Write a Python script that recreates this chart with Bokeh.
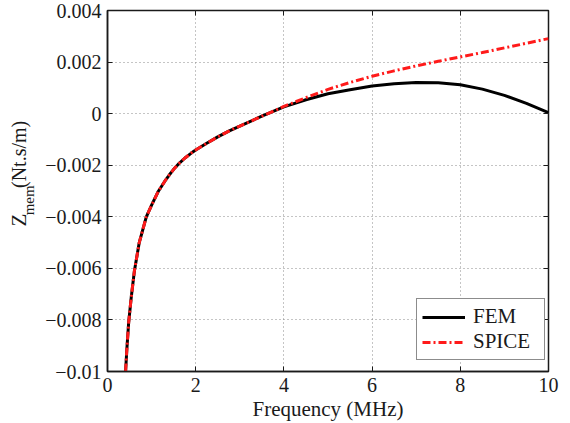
import math
from bokeh.plotting import figure
from bokeh.layouts import row
from bokeh.models import Range1d, FixedTicker, LinearAxis, Legend, LegendItem
from bokeh.core.properties import value
from bokeh.embed import file_html
from bokeh.resources import INLINE

# ---- data ----
freq = [0.41, 0.44, 0.48, 0.54, 0.61, 0.72, 0.88, 1.0, 1.15, 1.3, 1.4, 1.5, 1.6, 1.75, 1.9,
        2.0, 2.25, 2.5, 2.75, 3.0, 3.5, 4.0, 4.5, 5.0, 5.5, 6.0, 6.5, 7.0, 7.5, 8.0, 8.5,
        9.0, 9.5, 10.0]
fem = [-0.0100, -0.0091, -0.0081, -0.0071, -0.0061, -0.0050, -0.0040, -0.00355, -0.00302,
       -0.00262, -0.00238, -0.00216, -0.00197, -0.00173, -0.00153, -0.00141, -0.00115,
       -0.00090, -0.00068, -0.00048, -0.00010, 0.00026, 0.00054, 0.00077, 0.00093, 0.00107,
       0.00116, 0.00121, 0.00120, 0.00112, 0.00095, 0.00071, 0.00040, 0.00004]
spice = [-0.0100, -0.0091, -0.0081, -0.0071, -0.0061, -0.0050, -0.0040, -0.00355, -0.00302,
         -0.00262, -0.00238, -0.00216, -0.00197, -0.00173, -0.00153, -0.00141, -0.00115,
         -0.00090, -0.00068, -0.00048, -0.00010, 0.00028, 0.00062, 0.00094, 0.00121, 0.00145,
         0.00166, 0.00185, 0.00203, 0.00220, 0.00237, 0.00255, 0.00273, 0.00291]

x_ticks = [0, 2, 4, 6, 8, 10]
x_tick_labels = ["0", "2", "4", "6", "8", "10"]
y_ticks = [-0.01, -0.008, -0.006, -0.004, -0.002, 0, 0.002, 0.004]
y_tick_labels = ["\u22120.01", "\u22120.008", "\u22120.006", "\u22120.004", "\u22120.002",
                 "0", "0.002", "0.004"]
y_label_parts = ["Z", "mem", "(Nt.s/m)"]

FONT = "Liberation Serif"
TXT = "#1a1a1a"
LABEL_W = 40   # width of the strip that holds the y-axis title
W, H = 570, 423

# ---- main plot ----
p = figure(width=W - LABEL_W, height=H, x_range=Range1d(0, 10), y_range=Range1d(-0.01, 0.004),
           output_backend="svg", toolbar_location=None,
           min_border_left=107 - LABEL_W, min_border_right=22, min_border_top=10,
           min_border_bottom=49)
p.background_fill_color = "white"
p.border_fill_color = "white"
p.outline_line_color = "#1a1a1a"
p.outline_line_width = 1.5

def style_axis(ax, show_labels=True):
    ax.major_tick_in = 5
    ax.major_tick_out = 0
    ax.minor_tick_line_color = None
    ax.major_tick_line_color = "#1a1a1a"
    ax.axis_line_color = "#1a1a1a"
    ax.axis_line_width = 1.5
    if show_labels:
        ax.major_label_text_font = FONT
        ax.major_label_text_font_size = "20px"
        ax.major_label_text_color = TXT
        ax.major_label_standoff = 6
    else:
        ax.major_label_text_font_size = "1px"
        ax.major_label_text_color = None
        ax.major_label_standoff = 0
        ax.axis_line_color = None

xa = p.xaxis[0]
xa.ticker = FixedTicker(ticks=x_ticks)
xa.major_label_overrides = {t: l for t, l in zip(x_ticks, x_tick_labels)}
style_axis(xa)
xa.axis_label = "Frequency (MHz)"
xa.axis_label_text_font = FONT
xa.axis_label_text_font_size = "21px"
xa.axis_label_text_font_style = "normal"
xa.axis_label_text_color = TXT
xa.axis_label_standoff = 2

ya = p.yaxis[0]
ya.ticker = FixedTicker(ticks=y_ticks)
ya.major_label_overrides = {t: l for t, l in zip(y_ticks, y_tick_labels)}
style_axis(ya)

top = LinearAxis(ticker=FixedTicker(ticks=x_ticks))
style_axis(top, show_labels=False)
p.add_layout(top, "above")
right = LinearAxis(ticker=FixedTicker(ticks=y_ticks))
style_axis(right, show_labels=False)
p.add_layout(right, "right")

for g, t in ((p.xgrid[0], x_ticks), (p.ygrid[0], y_ticks)):
    g.ticker = FixedTicker(ticks=t)
    g.grid_line_color = "#8a8a8a"
    g.grid_line_dash = "1 3"
    g.grid_line_width = 1

r_fem = p.line(freq, fem, line_color="black", line_width=3)
r_spice = p.line(freq, spice, line_color="#ff1a1a", line_width=3, line_dash="8 3 2 3")

legend = Legend(items=[LegendItem(label="FEM", renderers=[r_fem]),
                       LegendItem(label="SPICE", renderers=[r_spice])],
                location=(309, 11), label_text_font=FONT, label_text_font_size="21px",
                label_text_color=TXT, border_line_color="#1a1a1a", border_line_width=1.2,
                padding=5, spacing=0, glyph_width=43, glyph_height=18, label_standoff=8,
                label_height=18, label_width=66, background_fill_alpha=1, margin=0)
p.add_layout(legend, "center")

# ---- strip on the left holding the y-axis title: Z with subscript "mem", then (Nt.s/m) ----
q = figure(width=LABEL_W, height=H, x_range=Range1d(0, LABEL_W), y_range=Range1d(0, H),
           output_backend="svg", toolbar_location=None, min_border=0)
q.axis.visible = False
q.grid.visible = False
q.outline_line_color = None
q.border_fill_color = "white"
q.background_fill_color = "white"
# anchor points in strip pixels (x from left, y from bottom); text runs upward
q.text(x=[18, 28, 18], y=[H - 253, H - 240, H - 208], text=y_label_parts,
       angle=math.pi / 2, text_font=value(FONT), text_color=TXT,
       text_font_size=["21px", "15px", "20px"],
       text_baseline="alphabetic", text_align="left")

layout = row(q, p, spacing=0)
open("out.html", "w").write(file_html(layout, INLINE))
